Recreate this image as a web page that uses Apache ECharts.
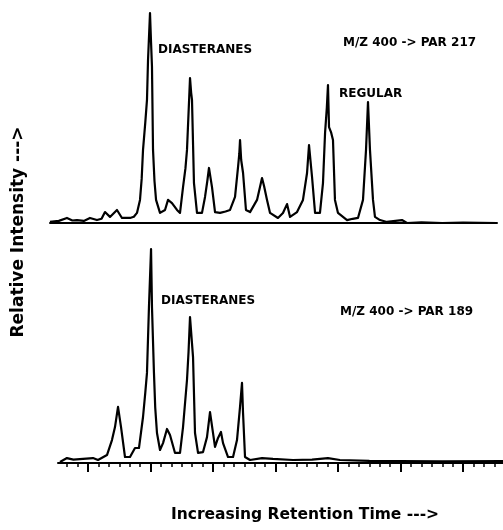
<!DOCTYPE html>
<html>
<head>
<meta charset="utf-8">
<script src="https://cdn.jsdelivr.net/npm/echarts@6/dist/echarts.min.js"></script>
<style>
  html, body { margin: 0; padding: 0; background: #fff; }
  #chart { width: 503px; height: 530px; }
</style>
</head>
<body>
<div id="chart"></div>
<script>
// Trace 1: M/Z 400 -> PAR 217 (retention time in arbitrary units, relative intensity %)
const par217Time = [2.35, 3.2, 3.98, 4.5, 4.94, 5.6, 6.19, 6.86, 7.3, 7.63, 8.11, 8.78, 9.26, 10.03, 10.4, 10.70, 10.99, 11.15, 11.28, 11.5, 11.66, 11.76, 11.95, 12.05, 12.14, 12.24, 12.38, 12.53, 12.91, 13.39, 13.68, 14.06, 14.54, 14.83, 15.12, 15.35, 15.50, 15.79, 15.9, 15.98, 16.17, 16.46, 16.94, 17.23, 17.45, 17.61, 17.90, 18.19, 18.67, 19.2, 19.63, 20.11, 20.40, 20.52, 20.59, 20.70, 20.88, 21.16, 21.55, 22.22, 22.50, 22.70, 22.90, 23.18, 23.47, 24.23, 24.71, 25.10, 25.39, 26.06, 26.63, 27.02, 27.21, 27.50, 27.79, 28.26, 28.55, 28.75, 28.92, 29.03, 29.13, 29.32, 29.51, 29.70, 29.99, 30.86, 31.4, 31.91, 32.39, 32.68, 32.87, 33.06, 33.35, 33.54, 34.02, 34.69, 35.5, 36.13, 36.61, 38, 40, 42, 45.25];
const par217Intensity = [0.5, 1.0, 2.4, 1.2, 1.4, 1.0, 2.4, 1.4, 2.0, 5.2, 2.9, 6.2, 2.4, 2.4, 3.0, 4.8, 11.0, 21.0, 34.8, 48.0, 58.6, 77.6, 100, 86.0, 74.3, 34.8, 20.0, 11.0, 4.8, 6.2, 11.0, 9.5, 6.2, 4.8, 17.1, 26.0, 34.8, 69.0, 62.0, 58.6, 19.0, 4.8, 4.8, 12.4, 20.0, 26.2, 17.1, 5.2, 4.8, 5.5, 6.2, 12.4, 26.7, 33.0, 39.5, 30.0, 23.8, 6.2, 5.2, 11.0, 17.0, 21.4, 17.5, 11.0, 4.8, 2.4, 4.8, 9.0, 2.9, 5.2, 11.0, 23.8, 37.1, 21.9, 4.8, 4.8, 19.0, 42.9, 55.0, 65.7, 45.7, 43.3, 39.5, 11.0, 4.8, 1.4, 2.0, 2.4, 11.0, 34.8, 57.6, 34.8, 11.0, 2.9, 1.4, 0.5, 1.0, 1.4, 0, 0.3, 0, 0.2, 0];

// Trace 2: M/Z 400 -> PAR 189
const par189Time = [3.31, 3.98, 4.6, 5.52, 6.48, 6.96, 7.82, 8.30, 8.59, 8.88, 9.17, 9.55, 10.03, 10.51, 10.89, 11.28, 11.50, 11.66, 11.85, 12.05, 12.14, 12.33, 12.45, 12.62, 12.91, 13.20, 13.58, 13.87, 14.35, 14.83, 15.12, 15.50, 15.65, 15.79, 16.08, 16.27, 16.56, 17.04, 17.42, 17.71, 18.00, 18.19, 18.48, 18.76, 18.96, 19.44, 19.92, 20.30, 20.59, 20.78, 20.88, 21.07, 21.55, 22.70, 23.75, 25.67, 27.5, 29.03, 30.18, 33, 35.94, 40, 45.83];
const par189Intensity = [0.5, 2.3, 1.6, 1.9, 2.3, 1.4, 3.7, 10.7, 16.8, 26.2, 16.8, 2.8, 2.8, 7.0, 7.0, 21.5, 33.0, 42.1, 72.9, 100, 72.9, 42.1, 26.0, 14.0, 6.1, 9.3, 15.9, 13.1, 4.7, 4.7, 16.8, 38.8, 52.0, 68.2, 49.5, 14.0, 4.7, 5.1, 12.1, 23.8, 14.0, 7.5, 11.7, 14.5, 9.3, 2.8, 2.8, 10.7, 26.2, 37.4, 23.4, 2.8, 1.4, 2.3, 1.9, 1.4, 1.6, 2.3, 1.4, 1.0, 0.9, 0.8, 0.9];

// Tick marks along the time axis
const minorTicks = [4, 5, 6, 7, 8, 9, 10, 11, 12, 13, 14, 15, 16, 17, 18, 19, 20, 21, 22, 23, 24, 25, 26, 27, 28, 29, 30, 31, 32, 33, 34, 35, 36, 37, 38, 39, 40, 41, 42, 43, 44, 45];
const majorTicks = [6, 12, 18, 24, 30, 36, 42];

const pairs = (xs, ys) => xs.map((x, i) => [x, ys[i]]);

const ink = '#000';
const fontFamily = '"DejaVu Sans", "Liberation Sans", Arial, sans-serif';

const chart = echarts.init(document.getElementById('chart'), null, { renderer: 'canvas' });

const hiddenY = (gridIndex) => ({
  type: 'value', gridIndex, min: 0, max: 100,
  show: false, splitLine: { show: false }
});

const label = (text, x, y, size) => ({
  type: 'text', x, y,
  style: { text, fill: ink, font: 'bold ' + size + 'px ' + fontFamily, textAlign: 'left', textVerticalAlign: 'middle' }
});

chart.setOption({
  animation: false,
  backgroundColor: '#fff',
  grid: [
    { left: 50, right: 6, top: 13, height: 210 },
    { left: 58, right: 0, top: 249, height: 214 }
  ],
  xAxis: [
    {
      type: 'value', gridIndex: 0, min: 2.353, max: 45.25,
      axisLine: { show: true, lineStyle: { color: ink, width: 2 } },
      axisTick: { show: false }, axisLabel: { show: false }, splitLine: { show: false }
    },
    {
      type: 'value', gridIndex: 1, min: 3.12, max: 45.83, position: 'bottom', offset: 0,
      axisLine: { show: true, lineStyle: { color: ink, width: 2 } },
      axisTick: { show: true, customValues: minorTicks, length: 4, lineStyle: { color: ink, width: 1.5 } },
      axisLabel: { show: false }, splitLine: { show: false }
    },
    {
      type: 'value', gridIndex: 1, min: 3.12, max: 45.83, position: 'bottom', offset: 0,
      axisLine: { show: false },
      axisTick: { show: true, customValues: majorTicks, length: 9, lineStyle: { color: ink, width: 2 } },
      axisLabel: { show: false }, splitLine: { show: false }
    }
  ],
  yAxis: [hiddenY(0), hiddenY(1)],
  series: [
    {
      type: 'line', xAxisIndex: 0, yAxisIndex: 0, data: pairs(par217Time, par217Intensity),
      symbol: 'none', clip: false, lineStyle: { color: ink, width: 2.2, join: 'round' }
    },
    {
      type: 'line', xAxisIndex: 1, yAxisIndex: 1, data: pairs(par189Time, par189Intensity),
      symbol: 'none', clip: false, lineStyle: { color: ink, width: 2.2, join: 'round' }
    }
  ],
  graphic: [
    label('DIASTERANES', 158, 50, 12),
    label('M/Z 400 -> PAR 217', 343, 43, 12),
    label('REGULAR', 339, 94, 12),
    label('DIASTERANES', 161, 301, 12),
    label('M/Z 400 -> PAR 189', 340, 312, 12),
    {
      type: 'text', x: 305, y: 515,
      style: { text: 'Increasing Retention Time --->', fill: ink, font: 'bold 15.5px ' + fontFamily, textAlign: 'center', textVerticalAlign: 'middle' }
    },
    {
      type: 'text', x: 19, y: 232, rotation: Math.PI / 2,
      style: { text: 'Relative Intensity --->', fill: ink, font: 'bold 17px ' + fontFamily, textAlign: 'center', textVerticalAlign: 'middle' }
    }
  ]
});
</script>
</body>
</html>
